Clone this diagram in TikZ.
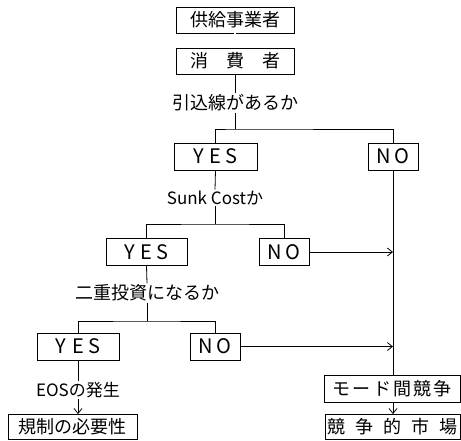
\documentclass[tikz,border=0pt]{standalone}
\usepackage{fontspec}
\setmainfont{Noto Sans CJK JP}
\usetikzlibrary{arrows.meta}
\begin{document}
\begin{tikzpicture}[x=1pt,y=-1pt,
  line width=0.8pt,
  box/.style={draw, inner sep=0pt, minimum height=26pt, font=\fontsize{18}{18}\selectfont},
  yn/.style={draw, inner sep=0pt, minimum height=27pt, font=\fontsize{20}{20}\selectfont},
  q/.style={inner sep=1pt, font=\fontsize{18}{18}\selectfont},
  ql/.style={inner sep=1pt, font=\fontsize{17}{17}\selectfont},
  arr/.style={-{Straight Barb[length=5pt,width=8pt,line width=0.8pt]}}]
\useasboundingbox (0,0) rectangle (461,440);

\node[box, minimum width=118pt] (sup) at (235,20) {供給事業者};
\node[box, minimum width=118pt] (con) at (235,61) {消　費　者};
\node[q] (q1) at (235,103) {引込線があるか};
\node[yn, minimum width=83pt] (yes1) at (215.5,156.5) {Y\hspace{6pt}E\hspace{4pt}S};
\node[yn, minimum width=50pt] (no1) at (393,156.5) {N\hspace{3pt}O};
\node[ql] (q2) at (215,198) {Sunk Costか};
\node[yn, minimum width=81pt] (yes2) at (146.5,252) {Y\hspace{6pt}E\hspace{4pt}S};
\node[yn, minimum width=50pt] (no2) at (284,252) {N\hspace{3pt}O};
\node[q] (q3) at (147,293) {二重投資になるか};
\node[yn, minimum width=82pt] (yes3) at (78,346.5) {Y\hspace{6pt}E\hspace{4pt}S};
\node[yn, minimum width=50pt] (no3) at (215,346.5) {N\hspace{3pt}O};
\node[ql] (eos) at (78,390) {EOSの発生};
\node[box, minimum width=129pt, minimum height=25pt] (reg) at (72.5,427) {規制の必要性};
\node[box, minimum width=136pt, minimum height=27pt] (mode) at (392,388.5) {モ\hspace{2.5pt}ー\hspace{2.5pt}ド\hspace{2pt}間\hspace{2pt}競\hspace{2pt}争};
\node[box, minimum width=135pt, minimum height=25pt] (comp) at (392.5,427) {競\hspace{10pt}争\hspace{10pt}的\hspace{10pt}市\hspace{10pt}場};

\coordinate (b1) at (235,129);
\coordinate (b2) at (215,224);
\coordinate (b3) at (147,321);

\draw[double distance=1.6pt, line width=0.6pt] (sup.south) -- (con.north);
\draw (con.south) -- (q1.north);
\draw (q1.south) -- (b1);
\draw (yes1.north) |- (b1) -| (no1.north);
\draw (yes1.south) -- (q2.north);
\draw (q2.south) -- (b2);
\draw (yes2.north) |- (b2) -| (no2.north);
\draw (yes2.south) -- (q3.north);
\draw (q3.south) -- (b3);
\draw (yes3.north) |- (b3) -| (no3.north);
\draw (no1.south) -- (mode.north -| no1.south);
\draw[arr] (no2.east) -- (no2.east -| no1.south);
\draw[arr] (no3.east) -- (no3.east -| no1.south);
\draw[arr] (mode.south -| no1.south) -- (comp.north -| no1.south);
\draw (yes3.south) -- (eos.north);
\draw[arr] (eos.south) -- (eos.south |- reg.north);
\end{tikzpicture}
\end{document}
